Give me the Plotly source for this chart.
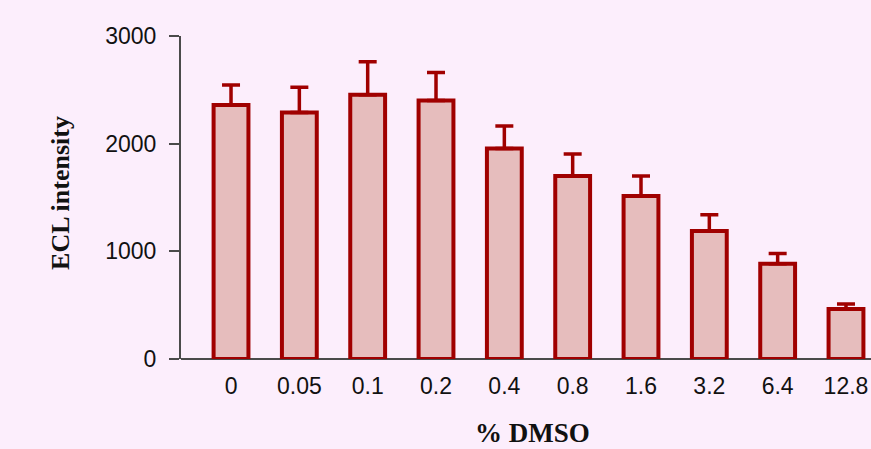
import plotly.graph_objects as go

# % DMSO concentrations and measured ECL intensity (mean, upper error)
dmso = ["0", "0.05", "0.1", "0.2", "0.4", "0.8", "1.6", "3.2", "6.4", "12.8"]
ecl_mean = [2360, 2290, 2455, 2400, 1955, 1700, 1515, 1190, 885, 465]
ecl_err = [185, 235, 305, 260, 210, 205, 185, 150, 95, 45]
y_ticks = [0, 1000, 2000, 3000]

outline = "#A00000"
fill = "#E6BDBD"
bg = "#FCEEFC"
axis_col = "#4A4A4A"

fig = go.Figure(
    go.Bar(
        x=list(range(len(dmso))),
        y=ecl_mean,
        width=0.51,
        marker=dict(color=fill, line=dict(color=outline, width=4)),
        error_y=dict(
            type="data",
            symmetric=False,
            array=ecl_err,
            arrayminus=[0] * len(ecl_err),
            color=outline,
            thickness=3.5,
            width=9,
        ),
    )
)

fig.update_layout(
    width=871,
    height=449,
    margin=dict(l=181, r=0, t=36, b=90),
    paper_bgcolor=bg,
    plot_bgcolor=bg,
    showlegend=False,
    font=dict(family="Liberation Sans, Arial, sans-serif", size=23, color="#111111"),
    xaxis=dict(
        range=[-0.732, 9.366],
        tickmode="array",
        tickvals=list(range(len(dmso))),
        ticktext=dmso,
        showgrid=False,
        zeroline=False,
        showline=False,
        ticks="",
        ticklabelstandoff=11,
    ),
    yaxis=dict(
        range=[0, 3000],
        tickmode="array",
        tickvals=y_ticks,
        ticktext=[str(v) for v in y_ticks],
        showgrid=False,
        zeroline=True,
        zerolinecolor=axis_col,
        zerolinewidth=2,
        showline=True,
        linecolor=axis_col,
        linewidth=2,
        ticks="outside",
        ticklen=10,
        tickwidth=2,
        tickcolor=axis_col,
        ticklabelstandoff=8,
    ),
    annotations=[
        dict(
            text="<b>ECL intensity</b>",
            xref="paper", yref="paper",
            x=-0.174, y=0.514,
            textangle=-90,
            showarrow=False,
            font=dict(family="Liberation Serif, Times New Roman, serif", size=26, color="#111111"),
            xanchor="center", yanchor="middle",
        ),
        dict(
            text="<b>% DMSO</b>",
            xref="paper", yref="paper",
            x=0.509, y=-0.229,
            showarrow=False,
            font=dict(family="Liberation Serif, Times New Roman, serif", size=27, color="#111111"),
            xanchor="center", yanchor="middle",
        ),
    ],
)

fig.write_html("out.html")
